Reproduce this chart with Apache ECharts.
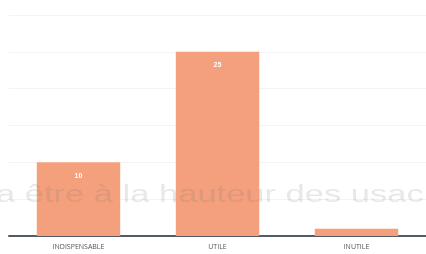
<!DOCTYPE html>
<html>
<head>
<meta charset="utf-8">
<script src="https://cdn.jsdelivr.net/npm/echarts@6/dist/echarts.min.js"></script>
<style>
  html, body { margin: 0; padding: 0; background: #fff; }
  #chart { width: 426px; height: 254px; }
</style>
</head>
<body>
<div id="chart"></div>
<script>
// categories and values
var categories = ['INDISPENSABLE', 'UTILE', 'INUTILE'];
var values = [10, 25, 1];

var chart = echarts.init(document.getElementById('chart'));

var option = {
    backgroundColor: '#fff',
    animation: false,
    grid: { left: 9, right: -2, top: 15, bottom: 18, containLabel: false },
    // faint text showing through the scanned page
    graphic: [{
        type: 'text',
        x: -4,
        y: 184,
        scaleX: 1.5,
        z: 10,
        silent: true,
        style: {
            text: 'a être à la hauteur des usac',
            font: '23px "Liberation Sans"',
            fill: 'rgba(110,110,110,0.16)'
        }
    }],
    xAxis: {
        type: 'category',
        data: categories,
        axisLine: { lineStyle: { color: '#545b68', width: 2 } },
        axisTick: { show: false },
        axisLabel: { color: '#555', fontSize: 7, fontFamily: 'Open Sans', margin: 7 }
    },
    yAxis: {
        type: 'value',
        min: 0,
        max: 30,
        interval: 5,
        axisLabel: { show: false },
        axisLine: { show: false },
        axisTick: { show: false },
        splitLine: { lineStyle: { color: '#f3f3f3', width: 1 } }
    },
    series: [{
        type: 'bar',
        data: values,
        barCategoryGap: '40%',
        z: 3,
        itemStyle: { color: '#f4a07c' },
        label: {
            show: true,
            position: 'insideTop',
            distance: 10,
            color: '#fff',
            fontSize: 7,
            fontWeight: 'bold',
            formatter: function (p) { return p.value > 2 ? p.value : ''; }
        }
    }]
};

chart.setOption(option);
</script>
</body>
</html>
